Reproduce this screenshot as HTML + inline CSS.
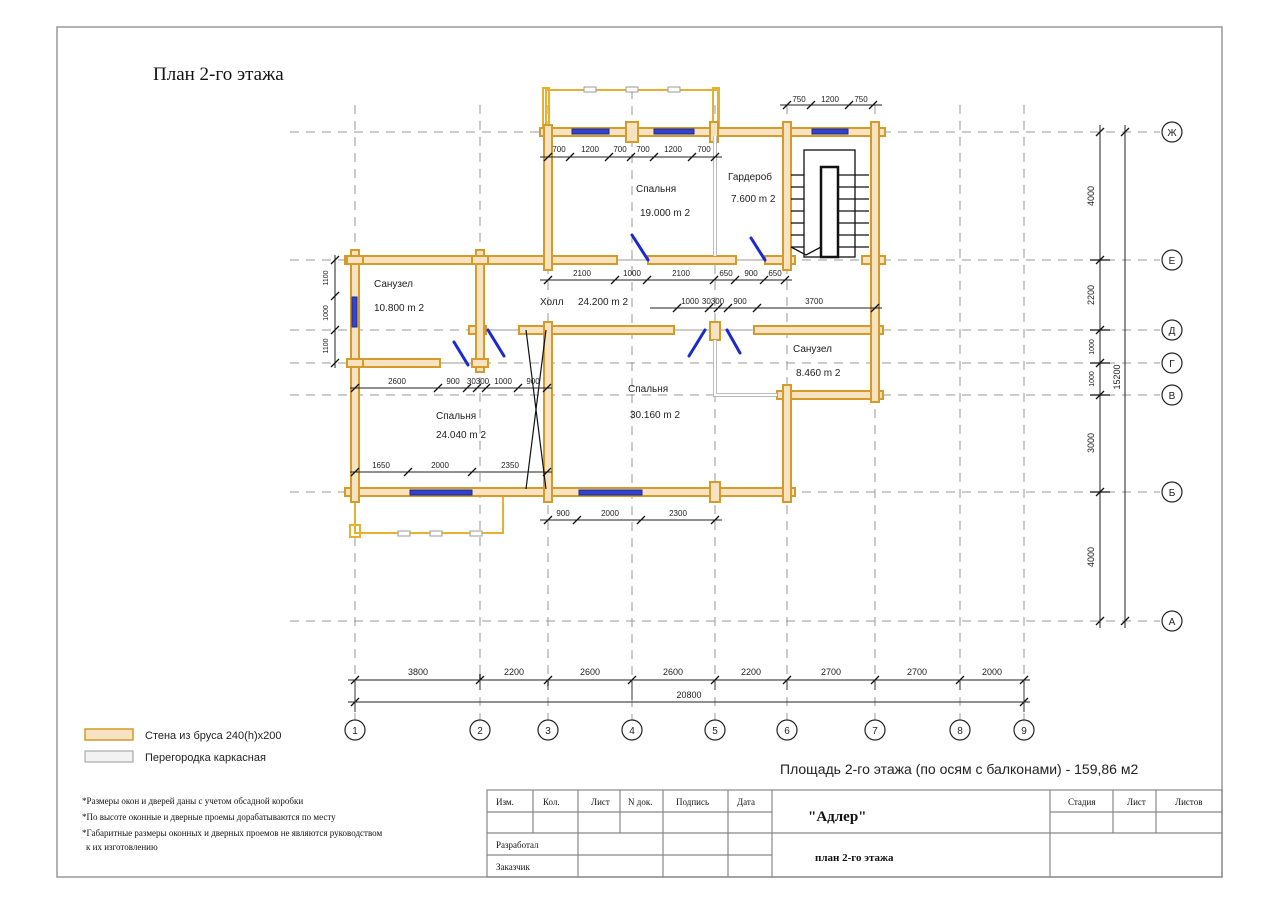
<!DOCTYPE html>
<html><head><meta charset="utf-8"><style>
body{margin:0;background:#fff}
svg{display:block}
text{font-family:"Liberation Sans","DejaVu Sans",sans-serif}
.s{font-family:"Liberation Serif","DejaVu Serif",serif}
</style></head><body>
<svg width="1280" height="905" viewBox="0 0 1280 905" xmlns="http://www.w3.org/2000/svg">
<rect x="57" y="27" width="1165" height="850" fill="#fff" stroke="#999" stroke-width="1.5"/>
<text x="153" y="80" class="s" font-size="19" fill="#111">План 2-го этажа</text>

<!-- grid -->
<g stroke="#999" stroke-width="1" stroke-dasharray="9,7" fill="none">
<line x1="355" y1="105" x2="355" y2="720"/><line x1="480" y1="105" x2="480" y2="720"/>
<line x1="548" y1="105" x2="548" y2="720"/><line x1="632" y1="90" x2="632" y2="720"/>
<line x1="715" y1="105" x2="715" y2="720"/><line x1="787" y1="105" x2="787" y2="720"/>
<line x1="875" y1="105" x2="875" y2="720"/><line x1="960" y1="105" x2="960" y2="720"/>
<line x1="1024" y1="105" x2="1024" y2="720"/>
<line x1="290" y1="132" x2="1160" y2="132"/><line x1="290" y1="260" x2="1160" y2="260"/>
<line x1="290" y1="330" x2="1160" y2="330"/><line x1="290" y1="363" x2="1160" y2="363"/>
<line x1="290" y1="395" x2="1160" y2="395"/><line x1="290" y1="492" x2="1160" y2="492"/>
<line x1="290" y1="621" x2="1160" y2="621"/>
</g>

<!-- balconies -->
<g fill="none" stroke="#e8b030" stroke-width="2">
<rect x="546" y="90" width="172" height="42"/><rect x="543" y="88" width="6" height="44"/><rect x="713" y="88" width="6" height="44"/>
<rect x="355" y="492" width="148" height="41"/><rect x="350" y="525" width="10" height="12"/>
</g>
<g fill="#fff" stroke="#999" stroke-width="1"><rect x="584" y="87" width="12" height="5"/><rect x="626" y="87" width="12" height="5"/><rect x="668" y="87" width="12" height="5"/>
<rect x="398" y="531" width="12" height="5"/><rect x="430" y="531" width="12" height="5"/><rect x="470" y="531" width="12" height="5"/></g>

<!-- thin door-gap lines -->
<g stroke="#999" stroke-width="1"><line x1="617" y1="260" x2="648" y2="260"/><line x1="736" y1="260" x2="765" y2="260"/><line x1="486" y1="330" x2="519" y2="330"/><line x1="674" y1="330" x2="754" y2="330"/><line x1="440" y1="363" x2="472" y2="363"/></g>

<!-- walls -->
<g fill="#f7e3c2" stroke="#d49a2a" stroke-width="2">
<rect x="540" y="128" width="345" height="8"/>
<rect x="345" y="256" width="272" height="8"/>
<rect x="648" y="256" width="88" height="8"/>
<rect x="765" y="256" width="30" height="8"/>
<rect x="862" y="256" width="23" height="8"/>
<rect x="469" y="326" width="17" height="8"/>
<rect x="519" y="326" width="155" height="8"/>
<rect x="754" y="326" width="129" height="8"/>
<rect x="355" y="359" width="85" height="8"/>
<rect x="777" y="391" width="106" height="8"/>
<rect x="345" y="488" width="450" height="8"/>
<rect x="351" y="250" width="8" height="252"/>
<rect x="476" y="250" width="8" height="122"/>
<rect x="544" y="125" width="8" height="145"/>
<rect x="544" y="322" width="8" height="180"/>
<rect x="783" y="122" width="8" height="148"/>
<rect x="783" y="385" width="8" height="117"/>
<rect x="871" y="122" width="8" height="280"/>
<rect x="626" y="122" width="12" height="20"/>
<rect x="710" y="482" width="10" height="20"/>
<rect x="710" y="322" width="10" height="18"/>
<rect x="710" y="122" width="8" height="20"/>
<rect x="347" y="256" width="16" height="8"/><rect x="472" y="256" width="16" height="8"/>
<rect x="472" y="359" width="16" height="8"/><rect x="347" y="359" width="16" height="8"/>
</g>
<g fill="none" stroke="#bbb" stroke-width="4"><polyline points="715,136 715,256"/><polyline points="715,340 715,395 777,395"/></g>
<g fill="none" stroke="#fff" stroke-width="2"><polyline points="715,136 715,256"/><polyline points="715,340 715,395 777,395"/></g>

<!-- windows -->
<g fill="#3344cc" stroke="#1a2a99" stroke-width="1">
<rect x="572" y="129" width="37" height="5"/><rect x="654" y="129" width="40" height="5"/><rect x="812" y="129" width="36" height="5"/>
<rect x="352" y="297" width="5" height="30"/>
<rect x="410" y="490" width="62" height="5"/><rect x="579" y="490" width="63" height="5"/>
</g>
<!-- doors -->
<g stroke="#1a2acc" stroke-width="3" stroke-linecap="round">
<line x1="454" y1="342" x2="468" y2="365"/><line x1="488" y1="330" x2="504" y2="356"/>
<line x1="689" y1="356" x2="705" y2="330"/><line x1="727" y1="330" x2="740" y2="353"/>
<line x1="632" y1="235" x2="648" y2="260"/><line x1="751" y1="238" x2="765" y2="260"/>
</g>
<g stroke="#111" stroke-width="1.2"><line x1="526" y1="330" x2="546" y2="489"/><line x1="546" y1="330" x2="526" y2="489"/></g>

<!-- stairs -->
<g fill="none" stroke="#111" stroke-width="1.3">
<rect x="804" y="150" width="51" height="107"/>
<rect x="821" y="167" width="17" height="90" stroke-width="2.5"/>
<line x1="791" y1="175" x2="804" y2="175"/><line x1="791" y1="187" x2="804" y2="187"/><line x1="791" y1="199" x2="804" y2="199"/><line x1="791" y1="211" x2="804" y2="211"/><line x1="791" y1="223" x2="804" y2="223"/><line x1="791" y1="235" x2="804" y2="235"/><line x1="791" y1="247" x2="804" y2="247"/>
<line x1="838" y1="175" x2="869" y2="175"/><line x1="838" y1="187" x2="869" y2="187"/><line x1="838" y1="199" x2="869" y2="199"/><line x1="838" y1="211" x2="869" y2="211"/><line x1="838" y1="223" x2="869" y2="223"/><line x1="838" y1="235" x2="869" y2="235"/><line x1="838" y1="247" x2="869" y2="247"/>
<polyline points="791,247 806,255 821,247"/>
</g>

<!-- dims -->
<g stroke="#222" stroke-width="1">
<line x1="540" y1="157" x2="722" y2="157"/>
<line x1="780" y1="105" x2="882" y2="105"/>
<line x1="540" y1="280" x2="792" y2="280"/>
<line x1="650" y1="308" x2="882" y2="308"/>
<line x1="350" y1="388" x2="552" y2="388"/>
<line x1="350" y1="472" x2="552" y2="472"/>
<line x1="540" y1="520" x2="722" y2="520"/>
<line x1="335" y1="255" x2="335" y2="368"/>
<line x1="348" y1="680" x2="1030" y2="680"/><line x1="348" y1="702" x2="1030" y2="702"/>
<line x1="1100" y1="125" x2="1100" y2="628"/><line x1="1125" y1="125" x2="1125" y2="628"/>
</g>
<g stroke="#111" stroke-width="1.3">
<path d="M544 161l8-8M566 161l8-8M605 161l8-8M627 161l8-8M650 161l8-8M688 161l8-8M711 161l8-8"/>
<path d="M783 109l8-8M807 109l8-8M845 109l8-8M869 109l8-8"/>
<path d="M544 284l8-8M611 284l8-8M643 284l8-8M710 284l8-8M731 284l8-8M760 284l8-8M781 284l8-8"/>
<path d="M673 312l8-8M705 312l8-8M714 312l8-8M724 312l8-8M753 312l8-8M871 312l8-8"/>
<path d="M351 392l8-8M434 392l8-8M463 392l8-8M473 392l8-8M482 392l8-8M514 392l8-8M543 392l8-8"/>
<path d="M351 476l8-8M404 476l8-8M468 476l8-8M543 476l8-8"/>
<path d="M544 524l8-8M573 524l8-8M637 524l8-8M711 524l8-8"/>
<path d="M331 264l8-8M331 300l8-8M331 334l8-8M331 367l8-8"/>
<path d="M351 684l8-8M476 684l8-8M544 684l8-8M628 684l8-8M711 684l8-8M783 684l8-8M871 684l8-8M956 684l8-8M1020 684l8-8M351 706l8-8M1020 706l8-8"/>
<path d="M1096 136l8-8M1096 264l8-8M1096 334l8-8M1096 367l8-8M1096 399l8-8M1096 496l8-8M1096 625l8-8M1121 136l8-8M1121 625l8-8"/>
<path d="M1090 260h20M1090 330h20M1090 363h20M1090 395h20M1090 492h20M480 680v-6M548 680v6"/>
</g>
<g stroke="#333" stroke-width="1"><line x1="355" y1="680" x2="355" y2="712"/><line x1="1024" y1="680" x2="1024" y2="712"/><line x1="480" y1="680" x2="480" y2="690"/><line x1="548" y1="680" x2="548" y2="690"/><line x1="632" y1="680" x2="632" y2="700"/><line x1="715" y1="680" x2="715" y2="690"/><line x1="787" y1="680" x2="787" y2="690"/><line x1="875" y1="680" x2="875" y2="690"/><line x1="960" y1="680" x2="960" y2="690"/></g>

<g font-size="8" fill="#222" text-anchor="middle">
<text x="559" y="152">700</text><text x="590" y="152">1200</text><text x="620" y="152">700</text><text x="643" y="152">700</text><text x="673" y="152">1200</text><text x="704" y="152">700</text>
<text x="799" y="102">750</text><text x="830" y="102">1200</text><text x="861" y="102">750</text>
<text x="582" y="276">2100</text><text x="632" y="276">1000</text><text x="681" y="276">2100</text><text x="726" y="276">650</text><text x="751" y="276">900</text><text x="775" y="276">650</text>
<text x="690" y="304">1000</text><text x="713" y="304">30300</text><text x="740" y="304">900</text><text x="814" y="304">3700</text>
<text x="397" y="384">2600</text><text x="453" y="384">900</text><text x="478" y="384">30300</text><text x="503" y="384">1000</text><text x="533" y="384">900</text>
<text x="381" y="468">1650</text><text x="440" y="468">2000</text><text x="510" y="468">2350</text>
<text x="563" y="516">900</text><text x="610" y="516">2000</text><text x="678" y="516">2300</text>
<text x="418" y="675" font-size="9">3800</text><text x="514" y="675" font-size="9">2200</text><text x="590" y="675" font-size="9">2600</text><text x="673" y="675" font-size="9">2600</text><text x="751" y="675" font-size="9">2200</text><text x="831" y="675" font-size="9">2700</text><text x="917" y="675" font-size="9">2700</text><text x="992" y="675" font-size="9">2000</text>
<text x="689" y="698" font-size="9">20800</text>
<text transform="translate(328,278) rotate(-90)" font-size="7">1100</text>
<text transform="translate(328,313) rotate(-90)" font-size="7">1000</text>
<text transform="translate(328,346) rotate(-90)" font-size="7">1100</text>
<text transform="translate(1094,196) rotate(-90)" font-size="9">4000</text>
<text transform="translate(1094,295) rotate(-90)" font-size="9">2200</text>
<text transform="translate(1094,347) rotate(-90)" font-size="7">1000</text>
<text transform="translate(1094,379) rotate(-90)" font-size="7">1000</text>
<text transform="translate(1094,443) rotate(-90)" font-size="9">3000</text>
<text transform="translate(1094,557) rotate(-90)" font-size="9">4000</text>
<text transform="translate(1120,377) rotate(-90)" font-size="9">15200</text>
</g>

<!-- room labels -->
<g font-size="10" fill="#222">
<text x="636" y="192">Спальня</text><text x="640" y="216">19.000  m 2</text>
<text x="728" y="180">Гардероб</text><text x="731" y="202">7.600  m 2</text>
<text x="374" y="287">Санузел</text><text x="374" y="311">10.800  m 2</text>
<text x="540" y="305">Холл</text><text x="578" y="305">24.200  m 2</text>
<text x="793" y="352">Санузел</text><text x="796" y="376">8.460  m 2</text>
<text x="628" y="392">Спальня</text><text x="630" y="418">30.160  m 2</text>
<text x="436" y="419">Спальня</text><text x="436" y="438">24.040  m 2</text>
</g>

<!-- axis circles -->
<g fill="#fff" stroke="#222" stroke-width="1.2">
<circle cx="355" cy="730" r="10"/><circle cx="480" cy="730" r="10"/><circle cx="548" cy="730" r="10"/><circle cx="632" cy="730" r="10"/><circle cx="715" cy="730" r="10"/><circle cx="787" cy="730" r="10"/><circle cx="875" cy="730" r="10"/><circle cx="960" cy="730" r="10"/><circle cx="1024" cy="730" r="10"/>
<circle cx="1172" cy="132" r="10"/><circle cx="1172" cy="260" r="10"/><circle cx="1172" cy="330" r="10"/><circle cx="1172" cy="363" r="10"/><circle cx="1172" cy="395" r="10"/><circle cx="1172" cy="492" r="10"/><circle cx="1172" cy="621" r="10"/>
</g>
<g font-size="10" fill="#222" text-anchor="middle">
<text x="355" y="734">1</text><text x="480" y="734">2</text><text x="548" y="734">3</text><text x="632" y="734">4</text><text x="715" y="734">5</text><text x="787" y="734">6</text><text x="875" y="734">7</text><text x="960" y="734">8</text><text x="1024" y="734">9</text>
<text x="1172" y="136">Ж</text><text x="1172" y="264">Е</text><text x="1172" y="334">Д</text><text x="1172" y="367">Г</text><text x="1172" y="399">В</text><text x="1172" y="496">Б</text><text x="1172" y="625">А</text>
</g>

<!-- legend -->
<rect x="85" y="729" width="48" height="11" fill="#f7e3c2" stroke="#d49a2a" stroke-width="1.5"/>
<rect x="85" y="751" width="48" height="11" fill="#f2f2f2" stroke="#aaa" stroke-width="1.2"/>
<text x="145" y="739" font-size="11" fill="#222">Стена из бруса 240(h)x200</text>
<text x="145" y="761" font-size="11" fill="#222">Перегородка каркасная</text>
<text x="780" y="774" font-size="14" fill="#222">Площадь 2-го этажа (по осям с балконами) - 159,86 м2</text>
<g class="s" font-size="9" fill="#111">
<text x="82" y="804" class="s">*Размеры окон и дверей даны с учетом обсадной коробки</text>
<text x="82" y="820" class="s">*По высоте оконные и дверные проемы дорабатываются по месту</text>
<text x="82" y="836" class="s">*Габаритные размеры оконных и дверных проемов не являются руководством</text>
<text x="86" y="850" class="s">к их изготовлению</text>
</g>

<!-- title block -->
<g stroke="#888" stroke-width="1.2" fill="none">
<rect x="487" y="790" width="735" height="87"/>
<line x1="487" y1="812" x2="772" y2="812"/><line x1="487" y1="833" x2="772" y2="833"/><line x1="487" y1="855" x2="772" y2="855"/>
<line x1="1050" y1="812" x2="1222" y2="812"/><line x1="1050" y1="833" x2="1222" y2="833"/>
<line x1="533" y1="790" x2="533" y2="833"/><line x1="620" y1="790" x2="620" y2="833"/>
<line x1="578" y1="790" x2="578" y2="877"/><line x1="663" y1="790" x2="663" y2="877"/><line x1="728" y1="790" x2="728" y2="877"/>
<line x1="772" y1="790" x2="772" y2="877"/><line x1="772" y1="833" x2="1050" y2="833"/><line x1="1050" y1="790" x2="1050" y2="877"/>
<line x1="1113" y1="790" x2="1113" y2="833"/><line x1="1156" y1="790" x2="1156" y2="833"/>
</g>
<g class="s" font-size="9" fill="#111">
<text x="496" y="805" class="s">Изм.</text><text x="543" y="805" class="s">Кол.</text><text x="591" y="805" class="s">Лист</text><text x="628" y="805" class="s">N док.</text><text x="676" y="805" class="s">Подпись</text><text x="737" y="805" class="s">Дата</text>
<text x="496" y="848" class="s">Разработал</text><text x="496" y="870" class="s">Заказчик</text>
<text x="1068" y="805" class="s">Стадия</text><text x="1127" y="805" class="s">Лист</text><text x="1175" y="805" class="s">Листов</text>
</g>
<text x="808" y="821" class="s" font-size="15" font-weight="bold" fill="#111">"Адлер"</text>
<text x="815" y="861" class="s" font-size="11" font-weight="bold" fill="#111">план 2-го этажа</text>
</svg>
</body></html>
